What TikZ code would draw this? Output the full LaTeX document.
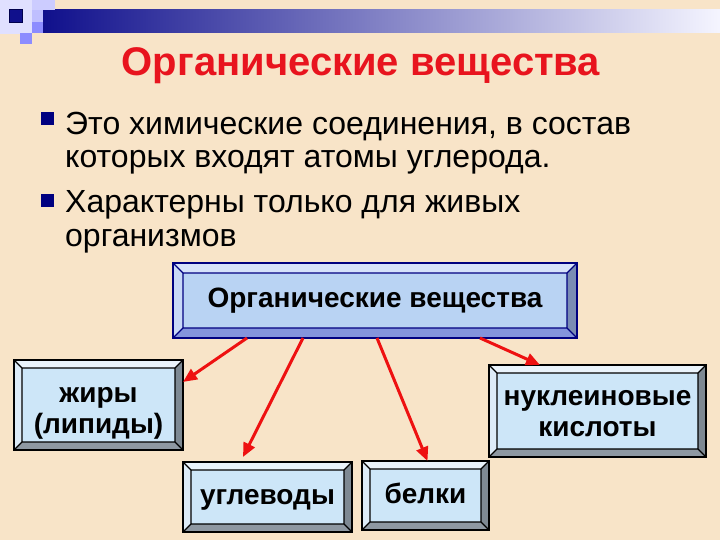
\documentclass[tikz,border=0pt]{standalone}
\usepackage{fontspec}
\setmainfont{Liberation Sans}
\usetikzlibrary{arrows.meta,calc}
\definecolor{bg}{HTML}{F8E4C8}
\definecolor{navyd}{HTML}{10108C}
\definecolor{bulletc}{HTML}{000080}
\definecolor{titlered}{HTML}{E8141E}
\definecolor{arrred}{HTML}{EE1111}
\definecolor{lface}{HTML}{CDE6F8}
\definecolor{ltop}{HTML}{EAF3FB}
\definecolor{lleft}{HTML}{DDEBF7}
\definecolor{lright}{HTML}{7E8993}
\definecolor{lbot}{HTML}{8E98A2}
\definecolor{tface}{HTML}{B9D3F3}
\definecolor{ttop}{HTML}{D6E2FA}
\definecolor{tleft}{HTML}{C9D9F7}
\definecolor{tright}{HTML}{7A8CB4}
\definecolor{tbot}{HTML}{8494DC}
\definecolor{tborder}{HTML}{000080}
\newcommand\bevelfill[6]{%
 \coordinate (bvsw) at (path picture bounding box.south west);
 \coordinate (bvne) at (path picture bounding box.north east);
 \coordinate (bvnw) at (bvsw |- bvne);
 \coordinate (bvse) at (bvne |- bvsw);
 \coordinate (isw) at ([shift={(#1,#1)}]bvsw);
 \coordinate (ine) at ([shift={(-#1,-#1)}]bvne);
 \coordinate (inw) at (isw |- ine);
 \coordinate (ise) at (ine |- isw);
 \fill[#2] (bvnw) -- (bvne) -- (ine) -- (inw) -- cycle;
 \fill[#3] (bvnw) -- (bvsw) -- (isw) -- (inw) -- cycle;
 \fill[#4] (bvne) -- (bvse) -- (ise) -- (ine) -- cycle;
 \fill[#5] (bvsw) -- (bvse) -- (ise) -- (isw) -- cycle;
 \draw[#6, line width=1.3pt] (isw) rectangle (ine) (bvsw)--(isw) (bvse)--(ise) (bvne)--(ine) (bvnw)--(inw);
}
\tikzset{
 lowbox/.style={draw=black, line width=2.5pt, fill=lface, inner sep=0pt, outer sep=0pt,
   path picture={\bevelfill{8pt}{ltop}{lleft}{lright}{lbot}{black}}},
 boxtext/.style={inner sep=0pt, font=\bfseries\fontsize{28}{31}\selectfont, align=center},
 topbox/.style={draw=tborder, line width=2.5pt, fill=tface, inner sep=0pt, outer sep=0pt,
   font=\bfseries\fontsize{28}{32}\selectfont, align=center,
   path picture={\bevelfill{10pt}{ttop}{tleft}{tright}{tbot}{tborder}}},
 arr/.style={draw=arrred, line width=3pt, -{Triangle[length=14pt,width=12pt]}},
 bodytext/.style={anchor=base west, inner sep=0pt, font=\fontsize{32}{36}\selectfont},
 bulletsq/.style={fill=bulletc, minimum size=13pt, inner sep=0pt, outer sep=0pt},
}
\begin{document}
\begin{tikzpicture}[x=1pt,y=-1pt]
\useasboundingbox (0,0) rectangle (720,540);
\fill[bg] (0,0) rectangle (720,540);
% decoration
\fill[white!88!blue] (0,0) rectangle (32,34);
\shade[left color=navyd, right color=white!96!blue] (43,10) rectangle (720,33);
\fill[white!80!blue] (32,0) rectangle (55,10);
\fill[white!75!blue] (32,10) rectangle (43,22);
\fill[white!55!blue] (32,22) rectangle (43,33);
\fill[white!55!blue] (20,33) rectangle (32,44);
\fill[navyd, draw=blue!30!black] (9,9) rectangle (22,22);
% title
\node[anchor=base, inner sep=0pt, text=titlered, font=\bfseries\fontsize{40}{44}\selectfont] (title) at (361,76) {Органические вещества};
% bullets and body text
\node[bulletsq] (b1) at (47,119) {};
\node[bulletsq] (b2) at (47,201) {};
\node[bodytext] (l1) at (65,135) {Это химические соединения, в состав};
\node[bodytext] (l2) at (65,168) {которых входят атомы углерода.};
\node[bodytext] (l3) at (65,212) {Характерны только для живых};
\node[bodytext] (l4) at (65,247) {организмов};
% boxes
\node[topbox, minimum width=404pt, minimum height=75pt] (top) at (375,300.5) {Органические вещества};
\node[lowbox, minimum width=169pt, minimum height=90pt] (zh) at (98.5,405) {};
\node[lowbox, minimum width=169pt, minimum height=70pt] (ug) at (267.5,497) {};
\node[lowbox, minimum width=127pt, minimum height=69pt] (bk) at (425.5,495.5) {};
\node[lowbox, minimum width=217pt, minimum height=92pt] (nk) at (597.5,411) {};
\node[boxtext] (zht) at ([yshift=-8pt]zh.center) {жиры\\(липиды)};
\node[boxtext] (ugt) at ([yshift=-3pt]ug.center) {углеводы};
\node[boxtext] (bkt) at ([yshift=2pt]bk.center) {белки};
\node[boxtext] (nkt) at ([yshift=-3pt]nk.center) {нуклеиновые\\кислоты};
% arrows
\draw[arr] ([xshift=74pt]top.south west) -- ($(zh.north east)!0.244!(zh.south east)$);
\draw[arr] ([xshift=130pt]top.south west) -- ([yshift=5pt]$(ug.north west)!0.355!(ug.north east)$);
\draw[arr] ([xshift=204pt]top.south west) -- ([xshift=2pt]bk.north);
\draw[arr] ([xshift=307pt]top.south west) -- ($(nk.north west)!0.235!(nk.north east)$);
\end{tikzpicture}
\end{document}
